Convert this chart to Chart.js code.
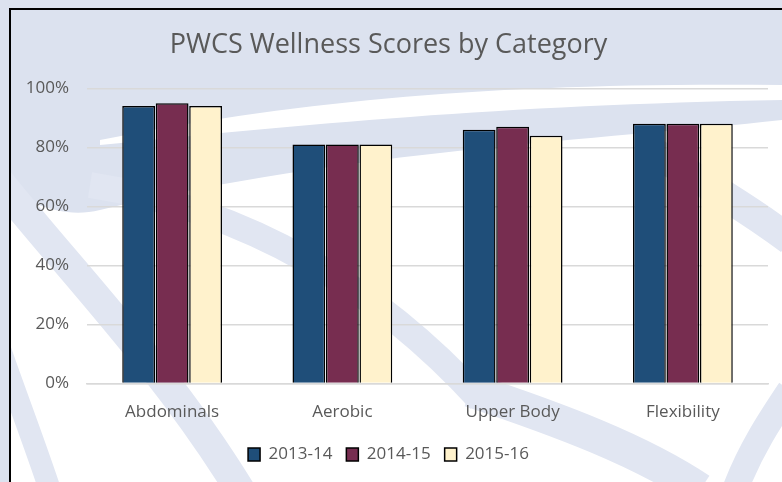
<!DOCTYPE html>
<html>
<head>
<meta charset="utf-8">
<script src="https://cdn.jsdelivr.net/npm/chart.js@4.4.1/dist/chart.umd.min.js"></script>
<style>
  html, body { margin: 0; padding: 0; background: #dce2ef; }
  #wrap { width: 782px; height: 482px; }
</style>
</head>
<body>
<div id="wrap"><canvas id="wellness_chart" width="782" height="482"></canvas></div>
<script>
// datos del gráfico
const categories = ['Abdominals', 'Aerobic', 'Upper Body', 'Flexibility'];
const seriesLabels = ['2013-14', '2014-15', '2015-16'];
const scores1314 = [94, 81, 86, 88];
const scores1415 = [95, 81, 87, 88];
const scores1516 = [94, 81, 84, 88];
const yTickValues = [0, 20, 40, 60, 80, 100];

const seriesColors = ['#1f4e79', '#772d50', '#fff2cc'];
const textColor = '#595959';

// fondo decorativo con curvas y marco
const backdrop = {
    id: 'backdrop',
    beforeDraw(chart) {
        const ctx = chart.ctx;
        const w = chart.width, h = chart.height;
        ctx.save();
        ctx.fillStyle = '#ffffff';
        ctx.fillRect(0, 0, w, h);

        // zona lavanda superior
        ctx.fillStyle = '#dce2ef';
        ctx.beginPath();
        ctx.moveTo(0, 0);
        ctx.lineTo(w, 0);
        ctx.lineTo(w, 120);
        ctx.bezierCurveTo(600, 140, 350, 150, 100, 210);
        ctx.bezierCurveTo(60, 220, 30, 200, 0, 190);
        ctx.closePath();
        ctx.fill();

        // barrido blanco
        ctx.fillStyle = '#ffffff';
        ctx.beginPath();
        ctx.moveTo(100, 140);
        ctx.bezierCurveTo(300, 100, 500, 82, w, 85);
        ctx.lineTo(w, 100);
        ctx.bezierCurveTo(500, 105, 300, 125, 100, 145);
        ctx.closePath();
        ctx.fill();

        // bandas azules claras
        ctx.strokeStyle = '#e1e6f2';
        ctx.lineCap = 'butt';
        const band = (lw, pts) => {
            ctx.lineWidth = lw;
            ctx.beginPath();
            ctx.moveTo(pts[0], pts[1]);
            ctx.bezierCurveTo(pts[2], pts[3], pts[4], pts[5], pts[6], pts[7]);
            ctx.stroke();
        };
        band(30, [-10, 170, 60, 260, 160, 360, 240, 490]);
        band(22, [-10, 320, 10, 380, 30, 430, 50, 490]);
        band(26, [90, 185, 250, 210, 380, 290, 480, 400]);
        band(30, [650, 150, 700, 180, 750, 210, 790, 240]);
        band(34, [470, 390, 560, 420, 640, 450, 700, 490]);
        band(26, [790, 390, 770, 420, 750, 450, 735, 490]);

        // marco del gráfico
        ctx.fillStyle = '#dce2ef';
        ctx.fillRect(0, 0, w, 8);
        ctx.fillRect(0, 0, 9, h);
        ctx.strokeStyle = '#000000';
        ctx.lineWidth = 2;
        ctx.beginPath();
        ctx.moveTo(10, h);
        ctx.lineTo(10, 9);
        ctx.lineTo(w, 9);
        ctx.stroke();
        ctx.restore();
    }
};

const ctxWellness = document.getElementById('wellness_chart').getContext('2d');
const wellnessChart = new Chart(ctxWellness, {
    type: 'bar',
    data: {
        labels: categories,
        datasets: [
            { label: seriesLabels[0], data: scores1314, backgroundColor: seriesColors[0] },
            { label: seriesLabels[1], data: scores1415, backgroundColor: seriesColors[1] },
            { label: seriesLabels[2], data: scores1516, backgroundColor: seriesColors[2] }
        ].map(ds => Object.assign(ds, {
            borderColor: '#000000',
            borderWidth: 1.5,
            categoryPercentage: 0.59,
            barPercentage: 0.98
        }))
    },
    options: {
        responsive: false,
        animation: false,
        layout: {
            padding: { top: 0, left: 9, right: 14, bottom: 9 }
        },
        plugins: {
            title: {
                display: true,
                text: 'PWCS Wellness Scores by Category',
                color: textColor,
                font: { family: 'Open Sans', size: 27, weight: 'normal' },
                padding: { top: 29, bottom: 27 }
            },
            legend: {
                position: 'bottom',
                labels: {
                    color: textColor,
                    font: { family: 'Open Sans', size: 17 },
                    boxWidth: 12,
                    boxHeight: 13,
                    padding: 14
                }
            },
            tooltip: { enabled: false }
        },
        scales: {
            x: {
                grid: { display: false },
                border: { color: '#d9d9d9', width: 1.5 },
                ticks: {
                    color: textColor,
                    font: { family: 'Open Sans', size: 17 },
                    padding: 10
                }
            },
            y: {
                min: 0,
                max: 100,
                afterBuildTicks(scale) {
                    scale.ticks = yTickValues.map(v => ({ value: v }));
                },
                afterFit(scale) {
                    scale.width = 78;
                },
                grid: { color: '#d9d9d9', lineWidth: 1.5, drawTicks: false },
                border: { display: false },
                ticks: {
                    color: textColor,
                    font: { family: 'Open Sans', size: 17 },
                    padding: 18,
                    callback: v => v + '%'
                }
            }
        }
    },
    plugins: [backdrop]
});
</script>
</body>
</html>
